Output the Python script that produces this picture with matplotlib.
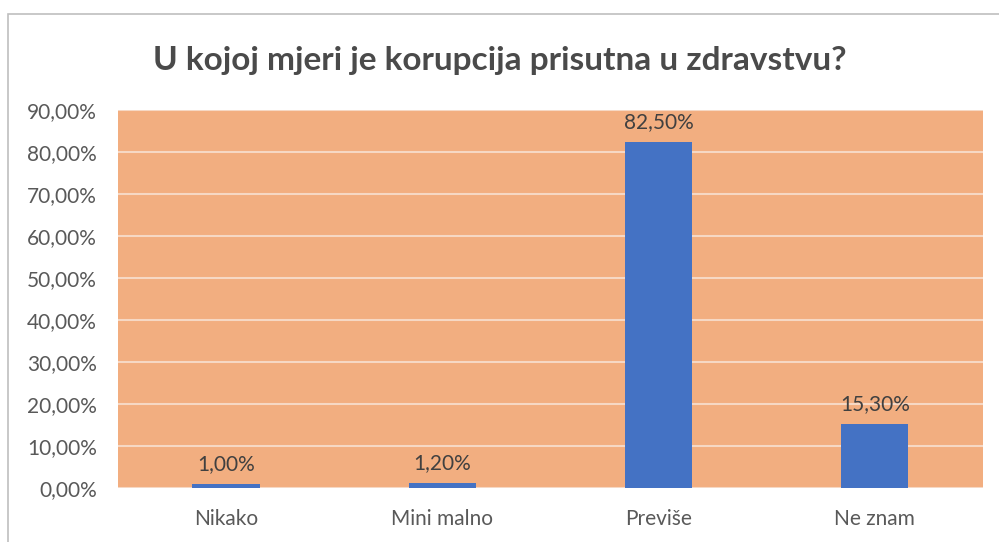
import matplotlib.pyplot as plt
from matplotlib.patches import Rectangle
from matplotlib.ticker import FuncFormatter

# ── DATA ──────────────────────────────────────────────────────────────────────
categories = ["Nikako", "Mini malno", "Previše", "Ne znam"]
values     = [1.00, 1.20, 82.50, 15.30]
labels     = ["1,00%", "1,20%", "82,50%", "15,30%"]
yticks     = [0, 10, 20, 30, 40, 50, 60, 70, 80, 90]

TITLE = "U kojoj mjeri je korupcija prisutna u zdravstvu?"

plt.rcParams["font.family"] = ["Lato", "DejaVu Sans"]

# ── PLOT ──────────────────────────────────────────────────────────────────────
fig = plt.figure(figsize=(9.99, 5.42), dpi=100)
ax = fig.add_axes([0.118, 0.099, 0.866, 0.698])

ax.set_facecolor("#F2AE80")
x = range(len(categories))
ax.bar(x, values, width=0.31, color="#4472C4", zorder=3)

for xi, v, lab in zip(x, values, labels):
    ax.annotate(lab, (xi, v), xytext=(0, 7), textcoords="offset points",
                ha="center", va="bottom", fontsize=15, color="#404040")

ax.set_xlim(-0.5, len(categories) - 0.5)
ax.set_ylim(0, 90)
ax.set_yticks(yticks)
ax.yaxis.set_major_formatter(FuncFormatter(lambda v, _: f"{v:.2f}%".replace(".", ",")))
ax.set_xticks(list(x))
ax.set_xticklabels(categories)
ax.tick_params(axis="both", length=0, labelsize=15, colors="#595959")
ax.tick_params(axis="x", pad=15)
ax.tick_params(axis="y", pad=15)
ax.grid(axis="y", color="#F6D8C4", linewidth=1.5, zorder=1)
for s in ax.spines.values():
    s.set_visible(False)

fig.text(0.5, 0.888, TITLE, ha="center", va="center",
         fontsize=24, fontweight="bold", color="#4a4a4a")

# chart frame
fig.patches.append(Rectangle((0.008, -0.05), 1.05, 1.024, transform=fig.transFigure,
                             fill=False, edgecolor="#BFBFBF", linewidth=1.2))

fig.savefig("out.png", dpi=100)
